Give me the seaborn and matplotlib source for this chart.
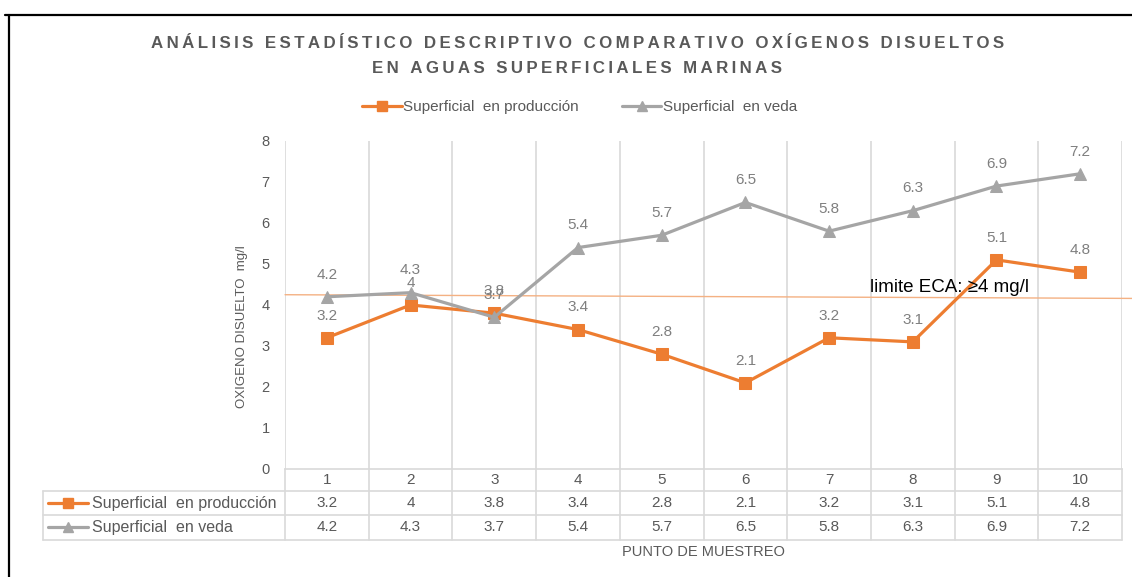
import numpy as np
import pandas as pd
import matplotlib.pyplot as plt
import matplotlib.transforms as mtransforms
from matplotlib.lines import Line2D
import seaborn as sns

# datos
puntos = [1, 2, 3, 4, 5, 6, 7, 8, 9, 10]
produccion = [3.2, 4, 3.8, 3.4, 2.8, 2.1, 3.2, 3.1, 5.1, 4.8]
veda = [4.2, 4.3, 3.7, 5.4, 5.7, 6.5, 5.8, 6.3, 6.9, 7.2]
serie_nombres = ['Superficial  en producción', 'Superficial  en veda']
limite_eca = [4.25, 4.16]   # línea dibujada a mano, algo inclinada
limite_texto = 'limite ECA: ≥4 mg/l'
titulo = ['ANÁLISIS ESTADÍSTICO DESCRIPTIVO COMPARATIVO OXÍGENOS DISUELTOS',
          'EN AGUAS SUPERFICIALES MARINAS']

naranja = '#ED7D31'
gris = '#A5A5A5'
texto = '#595959'
borde = '#D9D9D9'

sns.set_theme(style='white')
plt.rcParams['font.family'] = ['Liberation Sans', 'DejaVu Sans']

df = pd.DataFrame({'punto': puntos, 'produccion': produccion, 'veda': veda})

fig = plt.figure(figsize=(11.32, 5.77), dpi=100)
ax = fig.add_axes([0.2518, 0.1872, 0.7394, 0.5685])

sns.lineplot(data=df, x='punto', y='produccion', ax=ax, color=naranja, marker='s',
             markersize=8, linewidth=2.3, markeredgecolor=naranja, zorder=3)
sns.lineplot(data=df, x='punto', y='veda', ax=ax, color=gris, marker='^',
             markersize=8.5, linewidth=2.3, markeredgecolor=gris, zorder=4)

# etiquetas de datos
for x, y in zip(puntos, produccion):
    ax.annotate(f'{y:g}', (x, y), xytext=(0, 16), textcoords='offset points',
                ha='center', va='center', fontsize=11, color='#7F7F7F')
for x, y in zip(puntos, veda):
    ax.annotate(f'{y:g}', (x, y), xytext=(0, 16), textcoords='offset points',
                ha='center', va='center', fontsize=11, color='#7F7F7F')

# limite ECA
x_ini = puntos[0] - 0.5
x_fin = puntos[-1] + 0.62
ax.plot([x_ini, x_fin], limite_eca, color='#F4B183', linewidth=1.0, clip_on=False, zorder=2)
ax.text(7.49, 4.42, limite_texto, fontsize=13.5, color='black', va='center', ha='left',
        family=['Liberation Sans', 'DejaVu Sans'], zorder=5)

ax.set_xlim(puntos[0] - 0.5, puntos[-1] + 0.5)
ax.set_ylim(0, 8)
ax.set_yticks(range(0, 9))
ax.tick_params(axis='y', length=0, pad=11, labelsize=10.5, labelcolor=texto)
ax.set_xticks([])
for s in ['top', 'right', 'left']:
    ax.spines[s].set_visible(False)
ax.spines['bottom'].set_color(borde)
ax.spines['bottom'].set_linewidth(1.2)

# rejilla vertical entre categorias
bordes_x = np.arange(puntos[0] - 0.5, puntos[-1] + 0.51, 1.0)
for b in bordes_x:
    ax.axvline(b, color=borde, linewidth=1.2, zorder=0)

ax.set_ylabel('OXIGENO DISUELTO  mg/l', fontsize=9.5, color=texto)
ax.yaxis.set_label_coords(-0.044, 0.435)
ax.set_xlabel('PUNTO DE MUESTREO', fontsize=10.5, color=texto)
ax.xaxis.set_label_coords(0.5, -0.232)

# tabla de datos
trans = mtransforms.blended_transform_factory(ax.transData, ax.transAxes)
y_filas = [-0.0335, -0.104, -0.178]
y_lineas = [-0.067, -0.140, -0.2165]
x_izq = -0.289

for b in bordes_x:
    ax.plot([b, b], [0, y_lineas[-1]], transform=trans, color=borde, linewidth=1.2, clip_on=False)
for yl in y_lineas:
    ax.plot([x_izq, 1], [yl] * 2, transform=ax.transAxes, color=borde, linewidth=1.2, clip_on=False)
ax.plot([x_izq, x_izq], [y_lineas[0], y_lineas[-1]], transform=ax.transAxes, color=borde,
        linewidth=1.2, clip_on=False)

for i, p in enumerate(puntos):
    ax.text(p, y_filas[0], str(p), transform=trans, ha='center', va='center', fontsize=11, color=texto)
    ax.text(p, y_filas[1], f'{produccion[i]:g}', transform=trans, ha='center', va='center',
            fontsize=11, color=texto)
    ax.text(p, y_filas[2], f'{veda[i]:g}', transform=trans, ha='center', va='center',
            fontsize=11, color=texto)

for fila, nombre, col, mk in [(1, serie_nombres[0], naranja, 's'), (2, serie_nombres[1], gris, '^')]:
    ax.plot([-0.283, -0.235], [y_filas[fila]] * 2, transform=ax.transAxes, color=col,
            linewidth=2.3, clip_on=False)
    ax.plot([-0.259], [y_filas[fila]], transform=ax.transAxes, color=col, marker=mk,
            markersize=7, clip_on=False)
    ax.text(-0.2306, y_filas[fila], nombre, transform=ax.transAxes, ha='left', va='center',
            fontsize=11.5, color=texto)

# leyenda
handles = [Line2D([], [], color=naranja, marker='s', markersize=7, linewidth=2.3),
           Line2D([], [], color=gris, marker='^', markersize=7.5, linewidth=2.3)]
fig.legend(handles, serie_nombres, loc='center', bbox_to_anchor=(0.512, 0.8146), ncol=2,
           frameon=False, fontsize=11, labelcolor=texto, handlelength=2.6,
           handletextpad=0.1, columnspacing=2.8)

# titulo, con espaciado entre letras
espaciado = '\u2009'
lineas = [espaciado.join(t) for t in titulo]
fig.text(0.510, 0.925, lineas[0], ha='center', va='center', fontsize=12.2, fontweight='bold',
         color=texto, family=['Liberation Sans', 'DejaVu Sans'])
fig.text(0.510, 0.882, lineas[1], ha='center', va='center', fontsize=12.2, fontweight='bold',
         color=texto, family=['Liberation Sans', 'DejaVu Sans'])

# marco del grafico (borde izquierdo y superior)
fig.add_artist(Line2D([0.008, 0.008], [0, 0.974], color='black', linewidth=1.6, transform=fig.transFigure))
fig.add_artist(Line2D([0.004, 1.0], [0.974, 0.974], color='black', linewidth=1.6, transform=fig.transFigure))

fig.savefig('out.png', dpi=100, facecolor='white')
